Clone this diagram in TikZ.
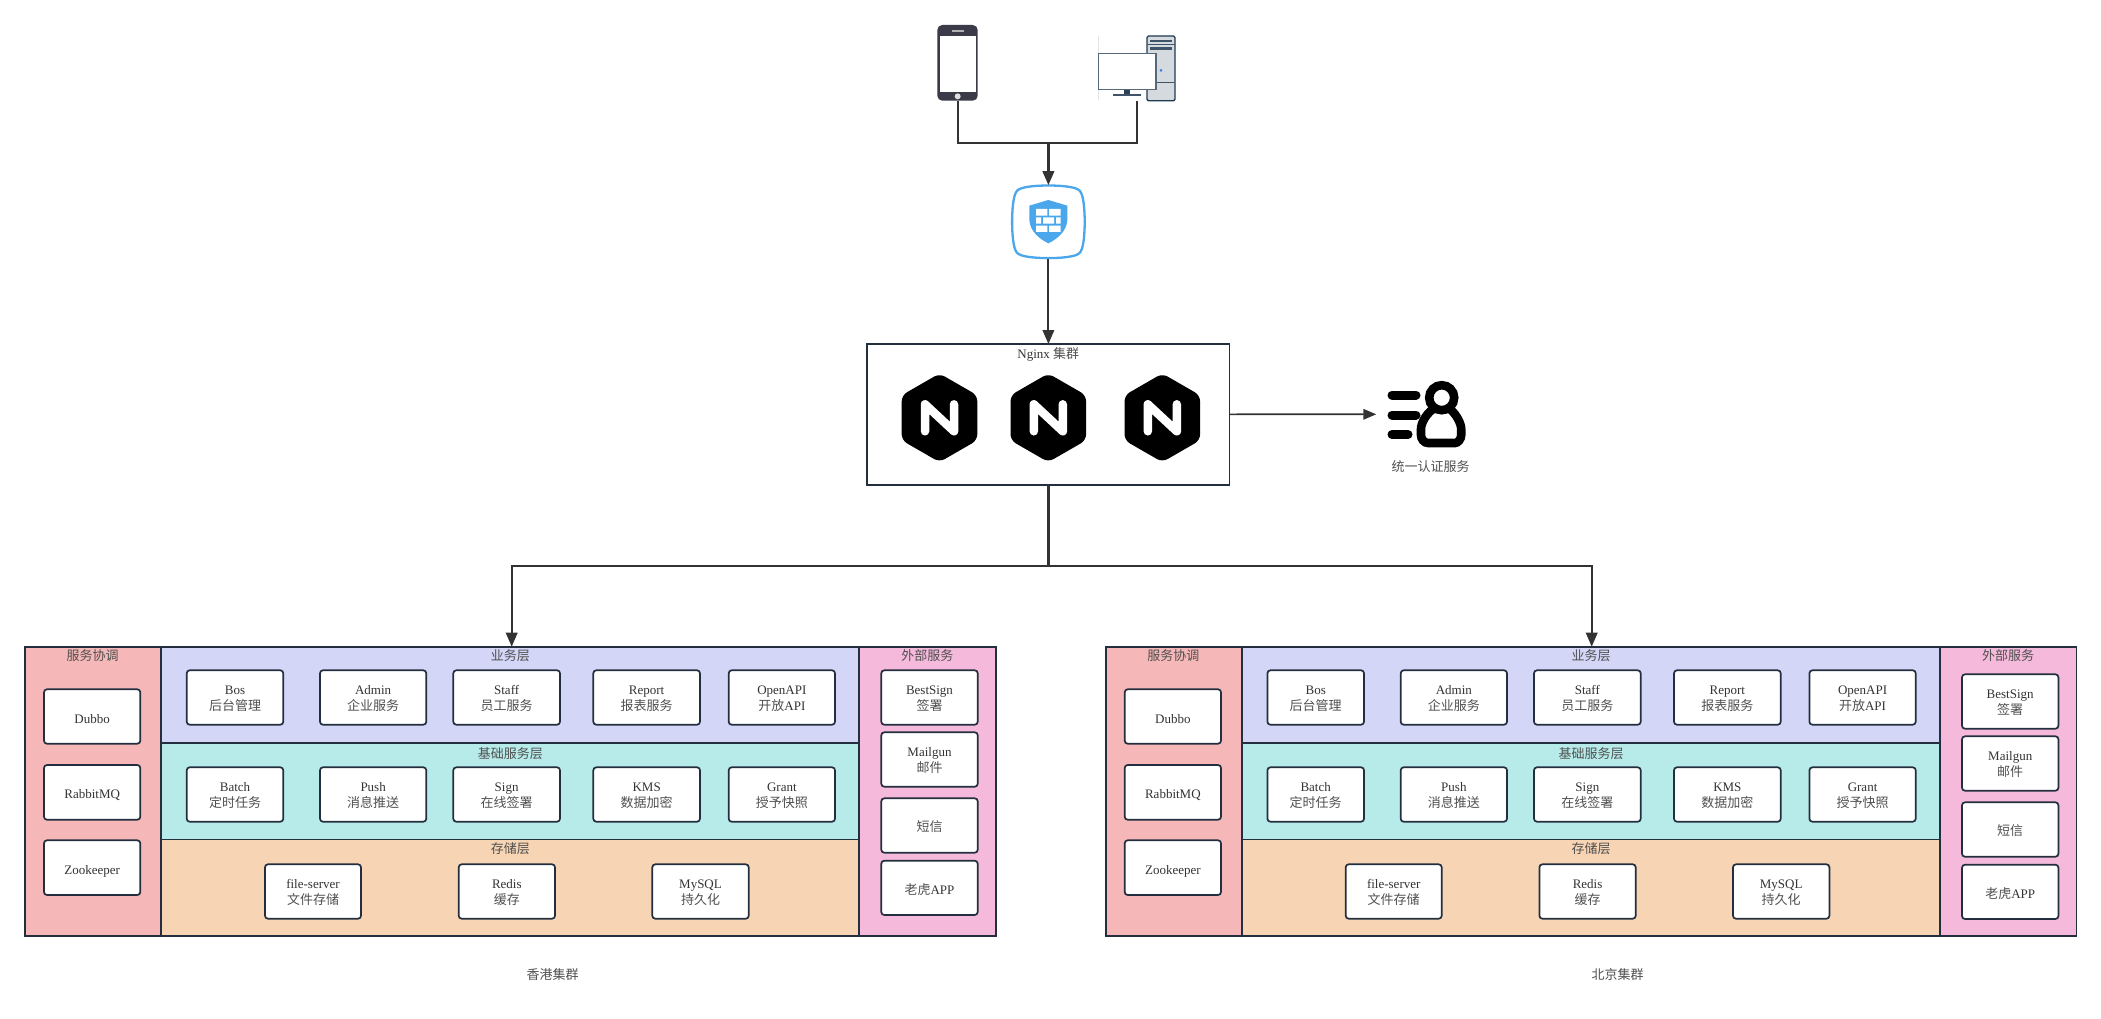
\documentclass[tikz,border=0pt]{standalone}
\usepackage{fontspec}
\setmainfont{Liberation Serif}
\newfontfamily\cjk{Noto Sans CJK SC}
\usetikzlibrary{arrows.meta}
\definecolor{frameC}{HTML}{232F3E}
\definecolor{txtC}{HTML}{333333}
\definecolor{zhC}{HTML}{505050}
\definecolor{lineC}{HTML}{333333}
\definecolor{redC}{HTML}{F5B7B7}
\definecolor{lavC}{HTML}{D3D6F7}
\definecolor{tealC}{HTML}{B7EBEA}
\definecolor{orgC}{HTML}{F7D5B4}
\definecolor{pinkC}{HTML}{F5B9DB}
\definecolor{fwC}{HTML}{4AA7EC}
\definecolor{phoneC}{HTML}{3A3A48}
\definecolor{towerC}{HTML}{1F3A52}
\definecolor{towerF}{HTML}{D5DADF}
\definecolor{slotC}{HTML}{3F5468}
\definecolor{dotC}{HTML}{3A7EE0}
\definecolor{standC}{HTML}{2D4256}
\definecolor{monC}{HTML}{56687A}
\newcommand\zh[1]{{\cjk\color{zhC}#1}}
\newcommand\zhtop{\rule{0pt}{13.8pt}}
\newcommand\lnstrut{\rule[-3pt]{0pt}{19pt}}
\tikzset{
  txtfont/.style={font=\fontsize{13}{16}\selectfont, text=txtC},
  panelbox/.style={draw=frameC, line width=1.7pt, rectangle, inner sep=0pt, outer sep=0pt},
  svcbox/.style={panelbox, fill=white, rounded corners=3pt, align=center, txtfont},
  ttlbox/.style={inner sep=0pt, align=center, txtfont},
  conn/.style={draw=lineC, line width=2pt},
  arrowline/.style={conn, -{Triangle[length=14pt,width=11.5pt]}},
  hexfill/.style={fill=black, rounded corners=6pt},
  nstroke/.style={draw=white, line width=8.5pt, line cap=round, line join=round},
  authstroke/.style={draw=black, line width=8.6pt},
  authbar/.style={draw=black, line width=9pt, line cap=round},
}
% name x1 y1 x2 y2 text
\newcommand\mysvc[6]{\node[svcbox, minimum width={#4-#2}, minimum height={#5-#3}] (\cpfx #1) at ({(#2+#4)/2},{(#3+#5)/2}) {\rule{0pt}{11.4pt}#6};}
\newcommand\mypanel[6]{\node[panelbox, fill=#6, minimum width={#4-#2}, minimum height={#5-#3}] (\cpfx #1) at ({(#2+#4)/2},{(#3+#5)/2}) {};}
\newcommand\myttl[4]{\node[ttlbox] (\cpfx #1) at (#2,#3) {#4};}
% prefix, xshift
\newcommand\mycluster[3]{%
  \def\cpfx{#1}%
  \begin{scope}[xshift=#2pt]
    \mypanel{coord}{25}{646.7}{161.3}{935.7}{redC}
    \mypanel{biz}{161.3}{646.7}{859.3}{743.3}{lavC}
    \mypanel{base}{161.3}{743.3}{859.3}{839.5}{tealC}
    \mypanel{store}{161.3}{839.5}{859.3}{935.7}{orgC}
    \mypanel{ext}{859.3}{646.7}{995.7}{935.7}{pinkC}
    \myttl{coordT}{92.7}{656}{\zh{服务协调}}
    \myttl{bizT}{510.3}{656}{\zh{业务层}}
    \myttl{baseT}{510.3}{753.3}{\zh{基础服务层}}
    \myttl{storeT}{510.3}{849}{\zh{存储层}}
    \myttl{extT}{927.3}{656}{\zh{外部服务}}
    \mysvc{dubbo}{44}{689.3}{140.3}{743.7}{\lnstrut Dubbo}
    \mysvc{rabbit}{44}{765}{140.3}{819.7}{\lnstrut RabbitMQ}
    \mysvc{zoo}{44}{840.3}{140.3}{895}{\lnstrut Zookeeper}
    \mysvc{bos}{186.7}{670.3}{283.3}{724.7}{Bos\\\zh{后台管理}}
    \mysvc{admin}{320}{670.3}{426.3}{724.7}{Admin\\\zh{企业服务}}
    \mysvc{staff}{453.3}{670.3}{560}{724.7}{Staff\\\zh{员工服务}}
    \mysvc{report}{593.3}{670.3}{700}{724.7}{Report\\\zh{报表服务}}
    \mysvc{openapi}{728.7}{670.3}{835}{724.7}{OpenAPI\\\zh{开放}API}
    \mysvc{batch}{186.7}{767.3}{283.3}{821.7}{Batch\\\zh{定时任务}}
    \mysvc{push}{320}{767.3}{426.3}{821.7}{Push\\\zh{消息推送}}
    \mysvc{sign}{453.3}{767.3}{560}{821.7}{Sign\\\zh{在线签署}}
    \mysvc{kms}{593.3}{767.3}{700}{821.7}{KMS\\\zh{数据加密}}
    \mysvc{grant}{728.7}{767.3}{835}{821.7}{Grant\\\zh{授予快照}}
    \mysvc{file}{265}{864.3}{361}{918.7}{file-server\\\zh{文件存储}}
    \mysvc{redis}{458.7}{864.3}{555}{918.7}{Redis\\\zh{缓存}}
    \mysvc{mysql}{652.3}{864.3}{748.7}{918.7}{MySQL\\\zh{持久化}}
    \begin{scope}[yshift=#3pt]
      \mysvc{best}{881.3}{670.3}{977.7}{724.7}{BestSign\\\zh{签署}}
      \mysvc{mail}{881.3}{732.3}{977.7}{786.7}{Mailgun\\\zh{邮件}}
      \mysvc{sms}{881.3}{798.3}{977.7}{852.7}{\zhtop\zh{短信}}
      \mysvc{tiger}{881.3}{860.7}{977.7}{915}{\zhtop\zh{老虎}APP}
    \end{scope}
  \end{scope}}
\newcommand\myhex[2]{%
  \node[inner sep=0pt, minimum width=75.6pt, minimum height=84pt] (#1) at (#2,417.8) {};
  \begin{scope}[shift={(#1.center)}]
    \fill[hexfill] (0,-44.3) -- (37.8,-22.5) -- (37.8,22.5) -- (0,44.3) -- (-37.8,22.5) -- (-37.8,-22.5) -- cycle;
    \draw[nstroke] (-14.5,13.5) -- (-14.5,-13.5) -- (14.5,13.5) -- (14.5,-13.5);
  \end{scope}}
\begin{document}
\begin{tikzpicture}[x=1pt,y=-1pt]
\fill[white] (0,0) rectangle (2101,1019);
\useasboundingbox (0,0) rectangle (2101,1019);

% phone
\node[inner sep=0pt, fill=phoneC, rounded corners=5pt, minimum width=40.4pt, minimum height=75.7pt] (phone) at (957.5,62.85) {};
\begin{scope}[shift={(880,0)},x=0.33333pt,y=-0.33333pt]
  \fill[white] (180,107) rectangle (287,275);
  \fill[gray!60] (215,91) rectangle (252,95);
  \fill[gray!25] (233,289) circle (9);
  % desktop
  \draw[gray!20, line width=1pt] (655,108) -- (655,300);
  \draw[draw=towerC, fill=towerF, line width=1.2pt, rounded corners=1.5pt] (801,108) rectangle (885,302);
  \draw[towerC, line width=1.6pt] (801,301) -- (885,301);
  \draw[slotC, line width=0.8pt] (801,133) -- (885,133);
  \fill[slotC] (811,120) rectangle (875,125);
  \fill[slotC] (811,140) rectangle (875,151);
  \draw[slotC, line width=0.8pt] (828,247) -- (882,247);
  \fill[dotC] (843,211) circle (4.5);
  \fill[standC] (733,268) rectangle (750,284);
  \fill[slotC] (700,282) rectangle (783,288);
  \draw[draw=monC, fill=white, line width=1.2pt] (655,160) rectangle (828,268);
\end{scope}
\coordinate (pc) at (1137,101);
\coordinate (join) at (1048.4,142.7);

% firewall
\node[inner sep=0pt, minimum width=72.7pt, minimum height=73pt] (fw) at (1048.4,221.8) {};
\begin{scope}[shift={(fw.center)}]
  \draw[fwC, line width=2.3pt, fill=white] (0,-36.3)
    .. controls (-12,-36.3) and (-22,-35.2) .. (-27,-33.5)
    .. controls (-31,-32) and (-32,-31) .. (-33.5,-27)
    .. controls (-35.2,-22) and (-36.3,-12) .. (-36.3,0)
    .. controls (-36.3,12) and (-35.2,22) .. (-33.5,27)
    .. controls (-32,31) and (-31,32) .. (-27,33.5)
    .. controls (-22,35.2) and (-12,36.3) .. (0,36.3)
    .. controls (12,36.3) and (22,35.2) .. (27,33.5)
    .. controls (31,32) and (32,31) .. (33.5,27)
    .. controls (35.2,22) and (36.3,12) .. (36.3,0)
    .. controls (36.3,-12) and (35.2,-22) .. (33.5,-27)
    .. controls (32,-31) and (31,-32) .. (27,-33.5)
    .. controls (22,-35.2) and (12,-36.3) .. (0,-36.3) -- cycle;
\end{scope}
\begin{scope}[shift={(880,0)},x=0.33333pt,y=-0.33333pt]
  \fill[fwC] (505,600) -- (562,617) -- (562,660) .. controls (560,695) and (530,718) .. (505,730)
     .. controls (480,718) and (450,695) .. (448,660) -- (448,617) -- cycle;
  \fill[white] (468,627) rectangle (502,647) (507,627) rectangle (542,647);
  \fill[white] (468,652) rectangle (483,671) (489,652) rectangle (522,671) (528,652) rectangle (542,671);
  \fill[white] (468,677) rectangle (502,696) (507,677) rectangle (542,696);
\end{scope}

% nginx
\node[panelbox, fill=white, minimum width=362.4pt, minimum height=140.7pt] (nginx) at (1048.4,414.35) {};
\node[ttlbox] (nginxT) at (1048.3,354) {Nginx \zh{集群}};
\myhex{n1}{939.5}
\myhex{n2}{1048.3}
\myhex{n3}{1162.3}

% auth icon
\node[inner sep=0pt, minimum width=88pt, minimum height=66pt] (auth) at (1426,414.3) {};
\begin{scope}
  \draw[authbar] (1392,395) -- (1416,395);
  \draw[authbar] (1392,415) -- (1416,415);
  \draw[authbar] (1392,434.5) -- (1408,434.5);
  \draw[authstroke] (1441.7,397.7) circle (12.5);
  \draw[authstroke, rounded corners=3pt] (1433,409)
     .. controls (1425,415) and (1421,424) .. (1421,432)
     .. controls (1421,439) and (1424,443) .. (1431,443)
     -- (1452,443)
     .. controls (1458,443) and (1461.2,439) .. (1461.2,432)
     .. controls (1461.2,424) and (1457,415) .. (1450,409);
\end{scope}
\node[ttlbox] (authT) at (1430.7,466.7) {\zh{统一认证服务}};

% clusters
\mycluster{hk}{0}{0}
\mycluster{bj}{1080.7}{-4}
\node[ttlbox] (hkT) at (552.7,975) {\zh{香港集群}};
\node[ttlbox] (bjT) at (1617.5,975) {\zh{北京集群}};

% connectors
\draw[conn] (phone.south) |- (join);
\draw[conn] (pc) |- (join);
\draw[arrowline, line width=2.5pt] (join) -- (fw.north);
\draw[arrowline] (fw.south) -- (nginx.north);
\draw[conn, line width=1.7pt, -{Triangle[length=13pt,width=10.5pt]}] (nginx.east) -- ([xshift=-5.5pt]auth.west);
\coordinate (bus) at (1048.4,566);
\draw[conn, line width=2.5pt] (nginx.south) -- (bus);
\draw[arrowline] (bus) -| ([xshift=1.4pt]hkbiz.north);
\draw[arrowline] (bus) -| ([xshift=0.7pt]bjbiz.north);
\end{tikzpicture}
\end{document}
